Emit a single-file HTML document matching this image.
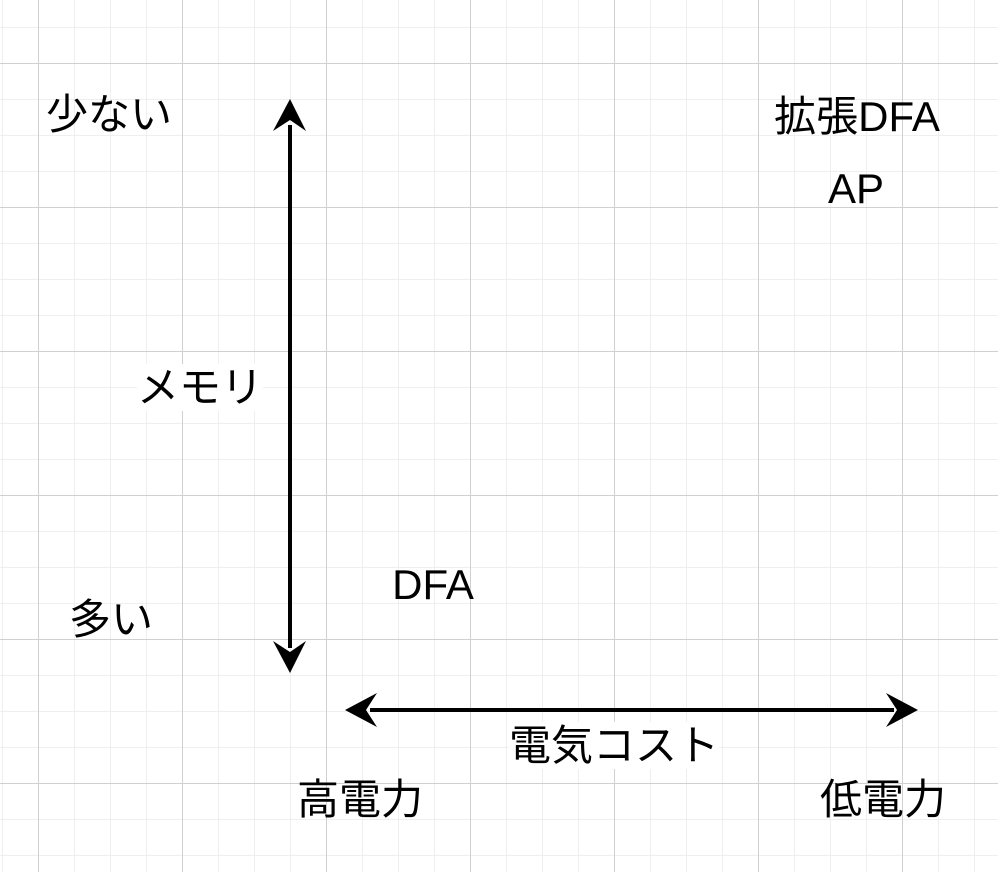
<!DOCTYPE html>
<html><head><meta charset="utf-8"><style>
html,body{margin:0;padding:0}
body{width:998px;height:872px;position:relative;overflow:hidden;background:#fff;
background-image:
linear-gradient(to right,#d0d0d0 1px,transparent 1px),
linear-gradient(to bottom,#d0d0d0 1px,transparent 1px),
linear-gradient(to right,#efefef 1px,transparent 1px),
linear-gradient(to bottom,#efefef 1px,transparent 1px);
background-size:144px 144px,144px 144px,36px 36px,36px 36px;
background-position:38px 0,0 63px,2px 0,0 27px;
font-family:"Liberation Sans","Noto Sans CJK JP",sans-serif;font-size:42px;color:#000}
.t{position:absolute;width:300px;text-align:center;line-height:40px;height:40px;white-space:nowrap}
.t span{background:#fff}
svg{position:absolute;left:0;top:0}
</style></head><body>
<svg width="998" height="872">
<line x1="290" y1="125" x2="290" y2="648" stroke="#000" stroke-width="4"/>
<polygon points="290,99 306,131 290,120 273,131" fill="#000"/>
<polygon points="290,673 306,641 290,652 273,641" fill="#000"/>
<line x1="370" y1="710" x2="894" y2="710" stroke="#000" stroke-width="4"/>
<polygon points="345,710 377,693 366,710 377,727" fill="#000"/>
<polygon points="918,710 886,693 897,710 886,727" fill="#000"/>
</svg>
<div class="t" style="left:-41px;top:95px">少ない</div>
<div class="t" style="left:707px;top:97px">拡張DFA</div>
<div class="t" style="left:706px;top:169px">AP</div>
<div class="t" style="left:50px;top:368px"><span>メモリ</span></div>
<div class="t" style="left:283px;top:565px">DFA</div>
<div class="t" style="left:-39px;top:600px">多い</div>
<div class="t" style="left:464px;top:726px"><span>電気コスト</span></div>
<div class="t" style="left:210px;top:780px">高電力</div>
<div class="t" style="left:733px;top:780px">低電力</div>
</body></html>
